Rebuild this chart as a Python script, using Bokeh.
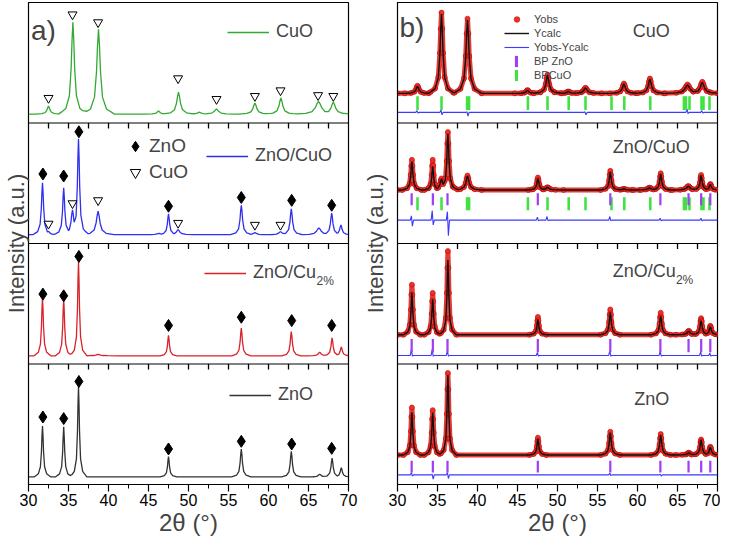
import numpy as np
from bokeh.plotting import figure
from bokeh.models import Range1d, FixedTicker, Legend, LegendItem, Label, Span
from bokeh.layouts import row
from bokeh.embed import file_html
from bokeh.resources import INLINE

FONT = "Liberation Sans"

# ---------------- axis ticks ----------------
X_MAJOR = [30, 35, 40, 45, 50, 55, 60, 65, 70]
X_MINOR = [32.5, 37.5, 42.5, 47.5, 52.5, 57.5, 62.5, 67.5]
BAND = 100          # each stacked pattern occupies 100 a.u.
N_BANDS = 4

# ---------------- panel a) : raw XRD patterns (band index 3 = top) ----------------
A_CUO_POS = [32.5, 35.55, 38.75, 46.25, 48.75, 51.35, 53.5, 58.3, 61.55, 66.25, 68.1]
A_CUO_TOP = [14.0, 83.5, 77.7, 10.0, 25.6, 9.0, 11.6, 16.5, 20.7, 18.0, 17.4]
A_CUO_HW = [0.2, 0.22, 0.25, 0.2, 0.25, 0.25, 0.3, 0.25, 0.25, 0.4, 0.3]
A_CUO_BASE = 7.4

A_ZC_POS = [31.75, 32.5, 34.4, 35.5, 36.25, 38.7, 46.3, 47.5, 48.7, 56.6, 58.3, 61.5, 62.85, 66.3, 67.9, 69.05]
A_ZC_TOP = [50.4, 10.0, 46.3, 27.9, 87.0, 26.8, 8.5, 24.6, 11.4, 31.7, 9.0, 9.8, 28.7, 13.0, 25.2, 15.4]
A_ZC_HW = [0.15, 0.2, 0.15, 0.2, 0.15, 0.25, 0.25, 0.15, 0.25, 0.17, 0.25, 0.25, 0.17, 0.3, 0.17, 0.17]
A_ZC_BASE = 7.3

A_ZCU_POS = [31.75, 34.4, 36.25, 38.7, 47.5, 56.6, 62.85, 66.4, 67.95, 69.1]
A_ZCU_TOP = [55.0, 54.0, 85.0, 8.0, 23.8, 29.8, 27.0, 9.8, 21.6, 14.2]
A_ZCU_HW = [0.13, 0.13, 0.13, 0.3, 0.13, 0.15, 0.15, 0.2, 0.15, 0.15]
A_ZCU_BASE = 6.8

A_ZNO_POS = [31.75, 34.4, 36.25, 47.5, 56.6, 62.85, 66.4, 67.95, 69.1]
A_ZNO_TOP = [48.6, 48.0, 81.4, 23.2, 29.5, 27.6, 8.5, 22.0, 14.0]
A_ZNO_HW = [0.13, 0.13, 0.13, 0.13, 0.15, 0.15, 0.2, 0.15, 0.15]
A_ZNO_BASE = 6.3

# phase markers in panel a)
A_TRI_X = [32.5, 35.5, 38.7, 48.7, 53.5, 58.3, 61.5, 66.2, 68.1,
           32.5, 35.5, 38.7, 48.7, 58.3, 61.5]
A_TRI_V = [20.7, 90.0, 83.5, 37.0, 19.8, 22.3, 27.0, 23.0, 22.3,
           16.3, 33.3, 35.8, 17.0, 15.4, 15.4]
A_TRI_BAND = [3] * 9 + [2] * 6

A_DIA_X = [31.8, 34.4, 36.3, 47.5, 56.6, 62.9, 67.9] * 3
A_DIA_V = [57.7, 56.0, 92.7, 30.9, 38.2, 35.8, 31.7,
           58.0, 56.6, 89.3, 32.0, 38.8, 36.0, 32.0,
           56.0, 54.7, 85.5, 29.5, 35.8, 33.6, 30.0]
A_DIA_BAND = [2] * 7 + [1] * 7 + [0] * 7

# ---------------- panel b) : Rietveld refinement ----------------
B_CUO_POS = [32.5, 35.5, 38.75, 46.25, 48.75, 51.35, 53.5, 58.3, 61.55, 66.25, 68.1]
B_CUO_OBS = [30.9, 91.6, 86.6, 27.3, 40.2, 26.2, 29.3, 32.8, 36.9, 32.0, 34.2]
B_CUO_CALC = [30.5, 90.5, 85.5, 27.0, 39.5, 26.0, 29.0, 32.5, 36.5, 31.5, 33.8]
B_CUO_HW = [0.2, 0.2, 0.22, 0.2, 0.22, 0.22, 0.25, 0.22, 0.22, 0.35, 0.28]
B_CUO_BASE = 24.6

B_ZC_POS = [31.8, 34.4, 35.5, 36.3, 38.75, 47.55, 48.75, 56.6, 58.3, 61.5, 62.9, 66.35, 67.95, 69.1]
B_ZC_OBS = [69.4, 69.4, 54.0, 92.5, 56.4, 54.8, 46.7, 60.3, 45.3, 46.4, 58.3, 47.8, 56.9, 49.4]
B_ZC_CALC = [68.0, 64.0, 53.5, 91.0, 56.0, 54.0, 46.5, 59.5, 45.2, 46.2, 57.8, 47.5, 56.5, 49.2]
B_ZC_HW = [0.15, 0.13, 0.2, 0.15, 0.22, 0.15, 0.25, 0.15, 0.25, 0.25, 0.15, 0.25, 0.15, 0.15]
B_ZC_BASE = 44.4

B_ZCU_POS = [31.8, 34.4, 36.3, 47.55, 56.6, 62.9, 66.4, 67.95, 69.1]
B_ZCU_OBS = [65.8, 59.0, 93.7, 39.1, 45.3, 42.6, 27.6, 38.0, 31.7]
B_ZCU_CALC = [59.0, 53.5, 86.3, 37.1, 42.6, 39.9, 27.2, 36.0, 31.0]
B_ZCU_HW = [0.13, 0.13, 0.13, 0.13, 0.15, 0.15, 0.2, 0.15, 0.15]
B_ZCU_BASE = 24.3

B_ZNO_POS = [31.8, 34.4, 36.3, 47.55, 56.6, 62.9, 66.4, 67.95, 69.1]
B_ZNO_OBS = [63.9, 61.7, 92.6, 38.8, 43.8, 41.9, 26.4, 37.4, 31.4]
B_ZNO_CALC = [60.0, 59.5, 90.7, 38.0, 43.0, 41.3, 26.2, 37.0, 31.0]
B_ZNO_HW = [0.13, 0.13, 0.13, 0.13, 0.15, 0.15, 0.2, 0.15, 0.15]
B_ZNO_BASE = 24.5

# difference curves (Yobs - Ycalc): level, feature positions, upward / downward excursions
B_DIFF_LEVEL = [8.0, 7.1, 19.4, 8.8]            # bands 0..3
B_DIFF_POS = [[31.8, 34.4, 36.3, 56.6, 62.9],
              [31.8, 34.4, 36.3, 47.55, 56.6, 62.9, 67.95, 69.1],
              [31.8, 34.4, 36.3, 47.55, 48.75, 56.6, 62.9, 68.0],
              [32.5, 35.5, 38.75, 53.5, 66.25, 68.1]]
B_DIFF_UP = [[2.0, 0.5, 2.0, 1.5, 0.5],
             [5.0, 5.0, 4.0, 2.5, 4.0, 3.5, 3.0, 2.0],
             [3.5, 8.0, 7.0, 2.5, 3.0, 3.0, 1.5, 1.5],
             [1.5, 2.0, 0.5, 0.5, 3.0, 1.5]]
B_DIFF_DOWN = [[1.0, 3.5, 3.0, 0.5, 1.0],
               [0.5, 0.5, 0.5, 0.5, 0.5, 0.5, 0.5, 0.5],
               [5.0, 4.0, 13.0, 0.5, 0.5, 0.5, 0.5, 0.5],
               [0.5, 2.0, 3.0, 2.0, 1.0, 0.5]]

# Bragg positions and the vertical extent of each tick row (band: (low, high))
BP_ZNO = [31.77, 34.42, 36.25, 47.54, 56.6, 62.86, 66.38, 67.96, 69.1]
BP_CUO = [32.5, 35.5, 38.7, 38.95, 46.3, 48.75, 51.4, 53.5, 56.75, 58.35, 61.6,
          65.8, 66.05, 66.5, 68.0, 68.25, 69.0]
BP_ZNO_ROW = {2: (31.7, 41.7), 1: (9.8, 20.7), 0: (9.9, 19.8)}
BP_CUO_ROW = {3: (10.7, 22.1), 2: (27.5, 38.3)}

# ---------------- profile template (Lorentzian-like peak shape) ----------------
PROF_T = [-8, -4, -2, -1, -0.5, 0, 0.5, 1, 2, 4, 8]
PROF_F = [0, 0.06, 0.2, 0.5, 0.8, 1, 0.8, 0.5, 0.2, 0.06, 0]

SEP_TICK = 4.5      # length of the separator ticks, in a.u.


def pattern(pos, top, hw, base, band):
    xs = {30.0, 70.0}
    for p, w in zip(pos, hw):
        for t in PROF_T:
            x = p + t * w
            if 30 <= x <= 70:
                xs.add(round(x, 4))
    xs = np.array(sorted(xs))
    ys = np.full(len(xs), float(base))
    for p, h, w in zip(pos, top, hw):
        ys = np.maximum(ys, base + (h - base) * np.interp((xs - p) / w, PROF_T, PROF_F, left=0, right=0))
    return xs, ys + band * BAND


def diff_curve(pos, up, down, level, band):
    xs, ys = [30.0], [level]
    for p, u, d in sorted(zip(pos, up, down)):
        xs += [p - 0.2, p - 0.06, p + 0.06, p + 0.2]
        ys += [level, level + u, level - d, level]
    xs.append(70.0)
    ys.append(level)
    return xs, [y + band * BAND for y in ys]


def make_fig(border_left, border_right):
    p = figure(frame_width=320, frame_height=482, min_border_left=border_left,
               min_border_right=border_right, min_border_top=2, min_border_bottom=48,
               x_range=Range1d(30, 70), y_range=Range1d(0, N_BANDS * BAND),
               output_backend="svg", toolbar_location=None)
    p.background_fill_color = "white"
    p.border_fill_color = "white"
    p.outline_line_color = "black"
    p.outline_line_width = 1.2
    p.xgrid.visible = False
    p.ygrid.visible = False
    xa = p.xaxis[0]
    xa.ticker = FixedTicker(ticks=X_MAJOR, minor_ticks=X_MINOR)
    xa.major_tick_out = 7
    xa.major_tick_in = 0
    xa.minor_tick_out = 4
    xa.minor_tick_in = 0
    xa.axis_line_width = 1.2
    xa.major_tick_line_width = 1.2
    xa.major_label_text_font = FONT
    xa.major_label_text_font_size = "16px"
    xa.major_label_text_color = "black"
    xa.major_label_standoff = 2
    xa.axis_label = "2θ (°)"
    xa.axis_label_text_font = FONT
    xa.axis_label_text_font_size = "24px"
    xa.axis_label_text_font_style = "normal"
    xa.axis_label_standoff = 0
    ya = p.yaxis[0]
    ya.ticker = FixedTicker(ticks=[])
    ya.major_tick_out = 0
    ya.minor_tick_out = 0
    ya.major_label_text_color = None
    ya.axis_label = "Intensity (a.u.)"
    ya.axis_label_text_font = FONT
    ya.axis_label_text_font_size = "22px"
    ya.axis_label_text_font_style = "normal"
    ya.axis_label_standoff = 0
    # separators between stacked patterns, with short downward ticks
    sep_ticks = X_MAJOR[1:-1] + X_MINOR
    for k in range(1, N_BANDS):
        p.add_layout(Span(location=k * BAND, dimension="width", line_color="black", line_width=1.2))
        p.segment(x0=sep_ticks, x1=sep_ticks, y0=[k * BAND] * len(sep_ticks),
                  y1=[k * BAND - SEP_TICK] * len(sep_ticks), line_color="black", line_width=1.3)
    return p


def legend(items, loc, gw, gh, size, standoff):
    return Legend(items=items, location=loc, background_fill_alpha=0, border_line_color=None,
                  padding=0, margin=0, spacing=0, glyph_width=gw, glyph_height=gh,
                  label_height=gh, label_standoff=standoff, label_text_font=FONT,
                  label_text_font_size=size, label_text_baseline="middle")


# ================= panel a =================
pa = make_fig(26, 11)
COL_A = {3: "#33a833", 2: "#2f2ff0", 1: "#d8232a", 0: "#333333"}
series_a = [(A_CUO_POS, A_CUO_TOP, A_CUO_HW, A_CUO_BASE, 3),
            (A_ZC_POS, A_ZC_TOP, A_ZC_HW, A_ZC_BASE, 2),
            (A_ZCU_POS, A_ZCU_TOP, A_ZCU_HW, A_ZCU_BASE, 1),
            (A_ZNO_POS, A_ZNO_TOP, A_ZNO_HW, A_ZNO_BASE, 0)]
rl = {}
for pos, top, hw, base, band in series_a:
    xs, ys = pattern(pos, top, hw, base, band)
    rl[band] = pa.line(xs, ys, line_color=COL_A[band], line_width=1.3)

tri_y = [v + b * BAND for v, b in zip(A_TRI_V, A_TRI_BAND)]
dia_y = [v + b * BAND for v, b in zip(A_DIA_V, A_DIA_BAND)]
r_dia = pa.scatter(A_DIA_X, dia_y, marker="diamond", size=12,
                   fill_color="black", line_color="black")
r_tri = pa.scatter(A_TRI_X, tri_y, marker="inverted_triangle", size=9,
                   fill_color="white", line_color="black", line_width=1)

pa.add_layout(legend([LegendItem(label="CuO", renderers=[rl[3]])], (199, 442), 42, 20, "18px", 7))
pa.add_layout(legend([LegendItem(label="ZnO/CuO", renderers=[rl[2]])], (178, 318), 42, 20, "18px", 7))
pa.add_layout(legend([LegendItem(label="ZnO/Cu", renderers=[rl[1]])], (176, 201), 42, 20, "18px", 7))
pa.add_layout(legend([LegendItem(label="ZnO", renderers=[rl[0]])], (201, 79), 42, 20, "18px", 7))
pa.add_layout(legend([LegendItem(label="ZnO", renderers=[r_dia]),
                      LegendItem(label="CuO", renderers=[r_tri])], (93, 299), 28, 26, "19px", 0))
pa.add_layout(Label(x=66.0, y=169, text="2%", text_font=FONT, text_font_size="12px",
                    text_baseline="middle"))
pa.add_layout(Label(x=30.3, y=377, text="a)", text_font=FONT, text_font_size="28px",
                    text_baseline="middle"))

# ================= panel b =================
pb = make_fig(38, 3)
pb.yaxis[0].axis_label_standoff = 10
OBS_RED = "#e3261f"
series_b = [(B_CUO_POS, B_CUO_OBS, B_CUO_CALC, B_CUO_HW, B_CUO_BASE, 3),
            (B_ZC_POS, B_ZC_OBS, B_ZC_CALC, B_ZC_HW, B_ZC_BASE, 2),
            (B_ZCU_POS, B_ZCU_OBS, B_ZCU_CALC, B_ZCU_HW, B_ZCU_BASE, 1),
            (B_ZNO_POS, B_ZNO_OBS, B_ZNO_CALC, B_ZNO_HW, B_ZNO_BASE, 0)]
obs_x, obs_y = [], []
calc_r = []
for pos, obs, calc, hw, base, band in series_b:
    xo, yo = pattern(pos, obs, hw, base, band)
    pb.line(xo, yo, line_color=OBS_RED, line_width=5, line_alpha=0.9)
    obs_x += list(xo)
    obs_y += list(yo)
r_obs = pb.scatter(obs_x, obs_y, marker="circle", size=5, fill_color="#ff2a1f",
                   line_color="#a51010", line_width=0.6)
for pos, obs, calc, hw, base, band in series_b:
    xc, yc = pattern(pos, calc, hw, base, band)
    calc_r.append(pb.line(xc, yc, line_color="#111111", line_width=1.4))

diff_r = []
for band in range(N_BANDS):
    xd, yd = diff_curve(B_DIFF_POS[band], B_DIFF_UP[band], B_DIFF_DOWN[band],
                        B_DIFF_LEVEL[band], band)
    diff_r.append(pb.line(xd, yd, line_color="#3a3aff", line_width=1.1))

zx, zb, zt, cx, cb, ct = [], [], [], [], [], []
for band, (lo, hi) in BP_ZNO_ROW.items():
    zx += BP_ZNO
    zb += [lo + band * BAND] * len(BP_ZNO)
    zt += [hi + band * BAND] * len(BP_ZNO)
for band, (lo, hi) in BP_CUO_ROW.items():
    cx += BP_CUO
    cb += [lo + band * BAND] * len(BP_CUO)
    ct += [hi + band * BAND] * len(BP_CUO)
r_bpc = pb.vbar(x=cx, bottom=cb, top=ct, width=0.32, fill_color="#3fe33f", line_color=None)
r_bpz = pb.vbar(x=zx, bottom=zb, top=zt, width=0.28, fill_color="#a040f5", line_color=None)

pb.add_layout(legend([LegendItem(label="Yobs", renderers=[r_obs]),
                      LegendItem(label="Ycalc", renderers=[calc_r[0]]),
                      LegendItem(label="Yobs-Ycalc", renderers=[diff_r[3]])],
                     (107, 430), 25, 14, "11px", 5))
pb.add_layout(legend([LegendItem(label="BP ZnO", renderers=[r_bpz]),
                      LegendItem(label="BPCuO", renderers=[r_bpc])],
                     (117, 402), 4, 14, "11px", 16))

for txt, x, y in [("CuO", 59.4, 376), ("ZnO/CuO", 56.9, 280), ("ZnO/Cu", 56.9, 177), ("ZnO", 59.6, 71.3)]:
    pb.add_layout(Label(x=x, y=y, text=txt, text_font=FONT, text_font_size="18px",
                        text_baseline="middle"))
pb.add_layout(Label(x=64.8, y=170, text="2%", text_font=FONT, text_font_size="12px",
                    text_baseline="middle"))
pb.add_layout(Label(x=30.25, y=379, text="b)", text_font=FONT, text_font_size="28px",
                    text_baseline="middle"))

layout = row(pa, pb)
open("out.html", "w").write(file_html(layout, INLINE))
